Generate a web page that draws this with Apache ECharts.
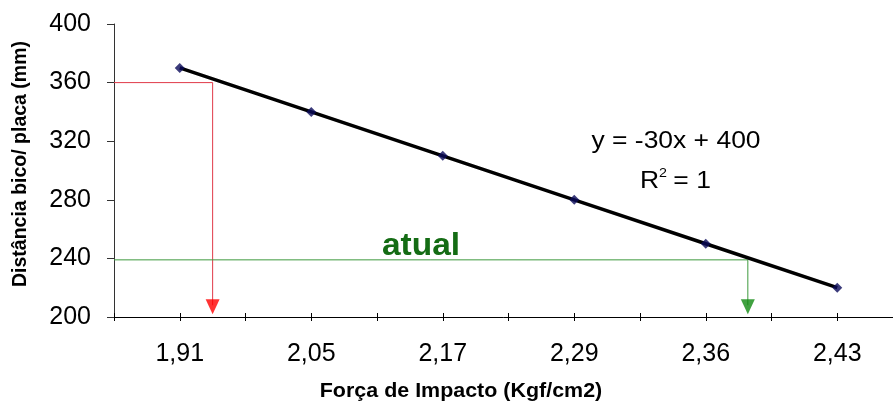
<!DOCTYPE html>
<html>
<head>
<meta charset="utf-8">
<script src="https://cdn.jsdelivr.net/npm/echarts@6/dist/echarts.min.js"></script>
<style>
  html, body { margin: 0; padding: 0; background: #fff; }
  #chart { width: 893px; height: 401px; }
</style>
</head>
<body>
<div id="chart"></div>
<script>
// dados
var forcaLabels = ['1,91', '2,05', '2,17', '2,29', '2,36', '2,43'];
var posicoes = [1, 2, 3, 4, 5, 6];
var distancia = [370, 340, 310, 280, 250, 220];
// linhas de referência (vermelha e "atual")
var redX = 1.25, redY = 360;
var greenX = 5.32, greenY = 239;
var arrowTip = 202;

var pontos = posicoes.map(function (x, i) { return [x, distancia[i]]; });

var font = 'Liberation Sans, Arial, sans-serif';

var option = {
  animation: false,
  backgroundColor: '#fff',
  grid: { left: 114, top: 24, width: 789, height: 293, outerBoundsMode: 'none', containLabel: false },
  xAxis: [
    {
      type: 'value', min: 0.5, max: 6.5, interval: 0.5, position: 'bottom',
      axisLine: { lineStyle: { color: '#000', width: 1 } },
      axisTick: { length: 4, lineStyle: { color: '#000' } },
      splitLine: { show: false },
      axisLabel: {
        margin: 25, color: '#000', fontSize: 25, fontFamily: font,
        formatter: function (v) { return Number.isInteger(v) ? forcaLabels[v - 1] : ''; }
      }
    },
    {
      type: 'value', min: 0.5, max: 6.5, interval: 0.5, position: 'bottom',
      axisLine: { show: false },
      axisTick: { inside: true, length: 4, lineStyle: { color: '#000' } },
      splitLine: { show: false },
      axisLabel: { show: false }
    }
  ],
  yAxis: {
    type: 'value', min: 200, max: 400, interval: 40,
    axisLine: { show: true, lineStyle: { color: '#333', width: 1 } },
    axisTick: { show: true, length: 7, lineStyle: { color: '#333' } },
    splitLine: { show: false },
    axisLabel: { margin: 23, color: '#000', fontSize: 25, fontFamily: font }
  },
  series: [
    {
      type: 'line', data: [[0.5, redY], [redX, redY], [redX, arrowTip + 6]],
      symbol: 'none', lineStyle: { color: '#e03a48', width: 1 }, z: 1
    },
    {
      type: 'scatter', data: [[redX, arrowTip + 5]], symbol: 'triangle', symbolRotate: 180,
      symbolSize: [14, 15], itemStyle: { color: '#ff0000' }, z: 2
    },
    {
      type: 'line', data: [[0.5, greenY], [greenX, greenY], [greenX, arrowTip + 6]],
      symbol: 'none', lineStyle: { color: '#3e9a3e', width: 1 }, z: 1
    },
    {
      type: 'scatter', data: [[greenX, arrowTip + 5]], symbol: 'triangle', symbolRotate: 180,
      symbolSize: [14, 15], itemStyle: { color: '#108a10' }, z: 2
    },
    {
      type: 'line', data: pontos, symbol: 'none',
      lineStyle: { color: '#000', width: 3.5 }, z: 3
    },
    {
      type: 'scatter', data: pontos, symbol: 'diamond', symbolSize: 10,
      itemStyle: { color: '#0a0a5a' }, z: 4
    }
  ],
  graphic: [
    {
      type: 'text', x: 21, y: 164, rotation: Math.PI / 2,
      style: {
        text: 'Distância bico/ placa (mm)', fill: '#000', font: 'bold 19.5px ' + font,
        textAlign: 'center', textVerticalAlign: 'middle'
      }
    },
    {
      type: 'text', x: 461, y: 392, scaleX: 1.1,
      style: {
        text: 'Força de Impacto (Kgf/cm2)', fill: '#000', font: 'bold 19.5px ' + font,
        textAlign: 'center', textVerticalAlign: 'middle'
      }
    },
    {
      type: 'text', x: 676, y: 142, scaleX: 1.15,
      style: {
        text: 'y = -30x + 400', fill: '#000', font: '23px ' + font,
        textAlign: 'center', textVerticalAlign: 'middle'
      }
    },
    {
      type: 'text', x: 640, y: 182, scaleX: 1.15,
      style: { text: 'R', fill: '#000', font: '23px ' + font, textAlign: 'left', textVerticalAlign: 'middle' }
    },
    {
      type: 'text', x: 659, y: 173, scaleX: 1.1,
      style: { text: '2', fill: '#000', font: '13px ' + font, textAlign: 'left', textVerticalAlign: 'middle' }
    },
    {
      type: 'text', x: 666, y: 182, scaleX: 1.15,
      style: { text: ' = 1', fill: '#000', font: '23px ' + font, textAlign: 'left', textVerticalAlign: 'middle' }
    },
    {
      type: 'text', x: 421, y: 246, scaleX: 1.08,
      style: {
        text: 'atual', fill: '#146c14', font: 'bold 31px ' + font,
        textAlign: 'center', textVerticalAlign: 'middle'
      }
    }
  ]
};

var chart = echarts.init(document.getElementById('chart'));
chart.setOption(option);
</script>
</body>
</html>
